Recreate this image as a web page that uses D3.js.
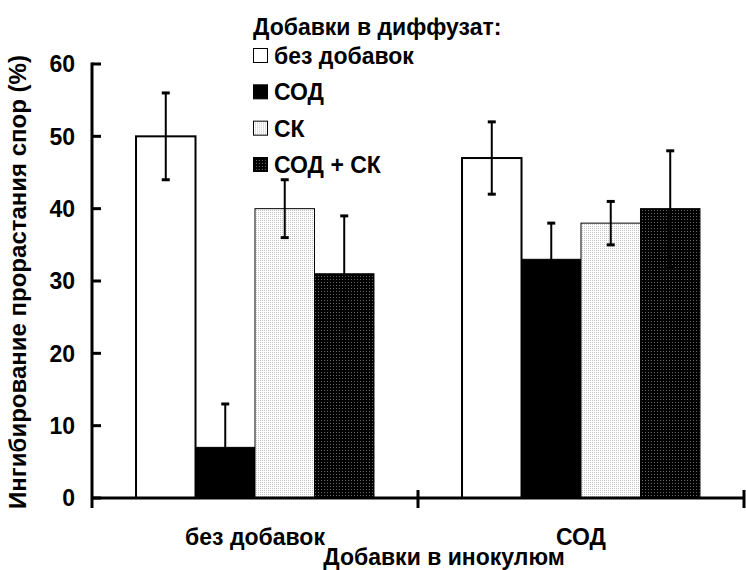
<!DOCTYPE html>
<html>
<head>
<meta charset="utf-8">
<script src="https://cdn.jsdelivr.net/npm/d3@7"></script>
<style>
  body { margin: 0; background: #fff; }
  svg { display: block; font-family: "Liberation Sans", Arial, sans-serif; font-weight: bold; }
</style>
</head>
<body>
<div id="chart"></div>
<script>
// Данные (читаются с картинки)
const groups = ['без добавок', 'СОД'];
const series = ['без добавок', 'СОД', 'СК', 'СОД + СК'];
const means = [
  [50, 7, 40, 31],
  [47, 33, 38, 40]
];
const errors = [
  [6, 6, 4, 8],
  [5, 5, 3, 8]
];
const yTicks = [0, 10, 20, 30, 40, 50, 60];

const width = 746, height = 570;
const svg = d3.select('#chart').append('svg')
  .attr('width', width)
  .attr('height', height);

// Узоры для СК и СОД + СК
const defs = svg.append('defs');
const pLight = defs.append('pattern')
  .attr('id', 'pat-light')
  .attr('width', 2).attr('height', 2)
  .attr('patternUnits', 'userSpaceOnUse');
pLight.append('rect').attr('width', 2).attr('height', 2).attr('fill', '#fff');
pLight.append('rect').attr('width', 1).attr('height', 1).attr('fill', '#c4c4c4');

const pDark = defs.append('pattern')
  .attr('id', 'pat-dark')
  .attr('width', 3).attr('height', 3)
  .attr('patternUnits', 'userSpaceOnUse');
pDark.append('rect').attr('width', 3).attr('height', 3).attr('fill', '#000');
pDark.append('rect').attr('width', 1).attr('height', 1).attr('fill', '#666');

const fills = ['#fff', '#000', 'url(#pat-light)', 'url(#pat-dark)'];
const strokes = [2, 1, 1, 1];
const fontSize = '23px';

// Шкалы
const x0 = d3.scaleBand().domain(groups).range([92, 744]);
const x1 = d3.scaleBand().domain(series).range([0, x0.bandwidth()]).paddingOuter(0.74);
const y = d3.scaleLinear().domain([0, 60]).range([498, 64]);

// Столбцы
const rows = [];
groups.forEach((g, gi) => {
  series.forEach((s, si) => {
    rows.push({ g, s, si, v: means[gi][si], e: errors[gi][si] });
  });
});

const bars = svg.append('g');
bars.selectAll('rect')
  .data(rows)
  .enter()
  .append('rect')
  .attr('x', d => x0(d.g) + x1(d.s))
  .attr('y', d => y(d.v))
  .attr('width', x1.bandwidth())
  .attr('height', d => y(0) - y(d.v))
  .attr('fill', d => fills[d.si])
  .attr('stroke', '#000')
  .attr('stroke-width', d => strokes[d.si]);

// Планки погрешностей
const errG = svg.append('g').attr('stroke', '#000');
rows.forEach(d => {
  const cx = x0(d.g) + x1(d.s) + x1.bandwidth() / 2;
  errG.append('line')
    .attr('x1', cx).attr('x2', cx)
    .attr('y1', y(d.v + d.e)).attr('y2', y(d.v - d.e))
    .attr('stroke-width', 2);
  [d.v + d.e, d.v - d.e].forEach(t => {
    errG.append('line')
      .attr('x1', cx - 4).attr('x2', cx + 4)
      .attr('y1', y(t)).attr('y2', y(t))
      .attr('stroke-width', 3);
  });
});

// Ось Y
const yAxis = svg.append('g');
yAxis.append('line')
  .attr('x1', 92).attr('x2', 92)
  .attr('y1', y(60) - 1.5).attr('y2', y(0) + 10)
  .attr('stroke', '#000').attr('stroke-width', 3);
yTicks.forEach(t => {
  yAxis.append('line')
    .attr('x1', 92).attr('x2', 101)
    .attr('y1', y(t)).attr('y2', y(t))
    .attr('stroke', '#000').attr('stroke-width', 3);
  yAxis.append('text')
    .attr('x', 75)
    .attr('y', y(t))
    .attr('dy', '0.36em')
    .attr('text-anchor', 'end')
    .attr('font-size', fontSize)
    .text(t);
});

// Ось X
const xAxis = svg.append('g');
xAxis.append('line')
  .attr('x1', 92).attr('x2', 744)
  .attr('y1', y(0)).attr('y2', y(0))
  .attr('stroke', '#000').attr('stroke-width', 3);
groups.forEach(g => {
  const xr = x0(g) + x0.bandwidth();
  xAxis.append('line')
    .attr('x1', xr).attr('x2', xr)
    .attr('y1', y(0) - 8).attr('y2', y(0) + 10)
    .attr('stroke', '#000').attr('stroke-width', 3);
  xAxis.append('text')
    .attr('x', x0(g) + x0.bandwidth() / 2)
    .attr('y', 545)
    .attr('text-anchor', 'middle')
    .attr('font-size', fontSize)
    .text(g);
});

// Подписи осей
svg.append('text')
  .attr('x', 444).attr('y', 565)
  .attr('text-anchor', 'middle')
  .attr('font-size', fontSize)
  .text('Добавки в инокулюм');

svg.append('text')
  .attr('transform', 'translate(26,282) rotate(-90)')
  .attr('text-anchor', 'middle')
  .attr('font-size', '24px')
  .text('Ингибирование прорастания спор (%)');

// Легенда
const legend = svg.append('g').attr('transform', 'translate(253,0)');
legend.append('text')
  .attr('x', 0).attr('y', 35)
  .attr('font-size', fontSize)
  .text('Добавки в диффузат:');
const ly = d3.scalePoint().domain(series).range([48, 157]);
series.forEach((s, i) => {
  const item = legend.append('g').attr('transform', `translate(0,${ly(s)})`);
  item.append('rect')
    .attr('x', 0.5).attr('y', 0.5)
    .attr('width', 14).attr('height', 14)
    .attr('fill', fills[i])
    .attr('stroke', '#000')
    .attr('stroke-width', 1);
  item.append('text')
    .attr('x', 21).attr('y', 16)
    .attr('font-size', fontSize)
    .text(s);
});
</script>
</body>
</html>
